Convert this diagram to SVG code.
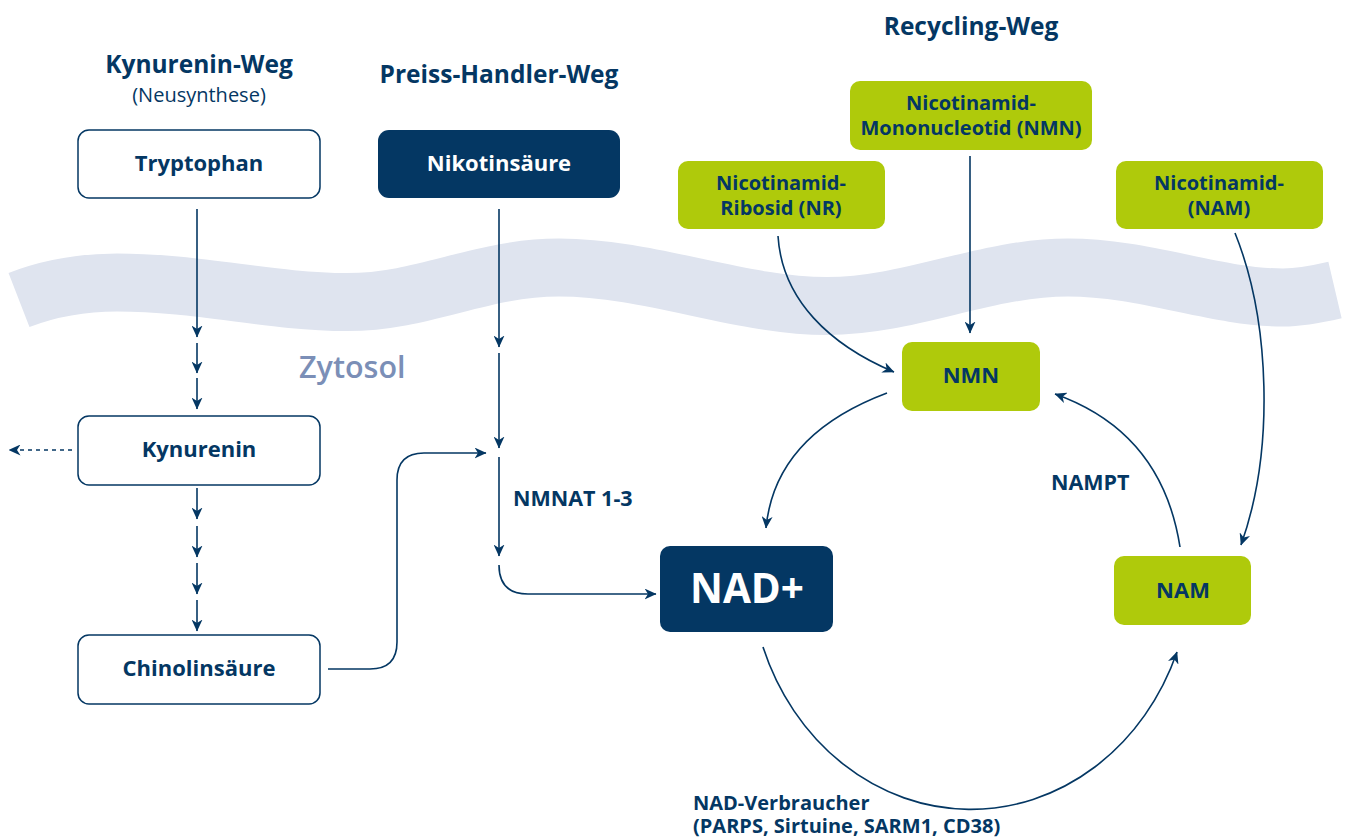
<svg xmlns="http://www.w3.org/2000/svg" width="1347" height="839" viewBox="0 0 1347 839">
  <defs>
    <marker id="arr" viewBox="0 0 12 11" refX="11.5" refY="5.5" markerWidth="12" markerHeight="11" markerUnits="userSpaceOnUse" orient="auto">
      <path d="M0,0 L12,5.5 L0,11 L3.5,5.5 Z" fill="#043763"/>
    </marker>
    <style>
      text { font-family: "Open Sans", "Noto Sans", "Liberation Sans", sans-serif; font-weight: 700; fill: #043763; }
      .hdr { font-size: 24.5px; text-anchor: middle; }
      .sub { font-size: 20px; font-weight: 400; text-anchor: middle; }
      .lbl { font-size: 20px; text-anchor: middle; }
      .lbl1 { font-size: 22px; text-anchor: middle; }
      .lblw { font-size: 22px; text-anchor: middle; fill: #ffffff; }
      .big { font-size: 40.5px; text-anchor: middle; fill: #ffffff; }
      .note { font-size: 21.5px; }
      .note2 { font-size: 20px; }
      .zyt { font-size: 30.5px; font-weight: 600; fill: #7B8FB7; }
      .wbox { fill: #ffffff; stroke: #043763; stroke-width: 1.5; }
      .nbox { fill: #043763; }
      .gbox { fill: #AFCA0B; }
      .con { fill: none; stroke: #043763; stroke-width: 1.6; marker-end: url(#arr); }
      .dash { fill: none; stroke: #043763; stroke-width: 1.6; stroke-dasharray: 4 4; marker-end: url(#arr); }
    </style>
  </defs>

  <rect width="1347" height="839" fill="#ffffff"/>

  <!-- membrane band -->
  <path id="membrane" d="M19,300 C 50,288 80,282.5 117,282.5 C 200,282.5 270,302 347,302 C 425,302 480,267.5 559,267.5 C 650,267.5 740,306 827,306 C 910,306 985,267.5 1068,267.5 C 1145,267.5 1215,297.5 1283,297.5 C 1302,297.5 1318,294 1335,290" fill="none" stroke="#DFE4EF" stroke-width="58"/>

  <text class="zyt" x="299" y="378">Zytosol</text>

  <!-- headers -->
  <text class="hdr" x="199" y="73">Kynurenin-Weg</text>
  <text class="sub" x="199" y="102">(Neusynthese)</text>
  <text class="hdr" x="499" y="83">Preiss-Handler-Weg</text>
  <text class="hdr" x="971" y="35">Recycling-Weg</text>

  <!-- connectors -->
  <g id="connectors">
    <path class="con" d="M197,209 L197,337"/>
    <path class="con" d="M197,343 L197,373"/>
    <path class="con" d="M197,378 L197,409"/>
    <path class="dash" d="M72,450 L9,450"/>
    <path class="con" d="M197,488 L197,519"/>
    <path class="con" d="M197,526 L197,557"/>
    <path class="con" d="M197,563 L197,594"/>
    <path class="con" d="M197,600 L197,631"/>
    <path class="con" d="M328,669 L370,669 Q397,669 397,642 L397,480 Q397,453 424,453 L486,453"/>
    <path class="con" d="M499,209 L499,347"/>
    <path class="con" d="M499,353 L499,448"/>
    <path class="con" d="M499,457 L499,556"/>
    <path class="con" d="M499,565 Q499,594 528,594 L656,594"/>
    <path class="con" d="M778,236 C 782,300 830,345 894,372"/>
    <path class="con" d="M970,156 L970,333"/>
    <path class="con" d="M1235,233 C 1270,320 1275,450 1241,545"/>
    <path class="con" d="M887,393 Q 775,435 766,528"/>
    <path class="con" d="M1180,547 Q 1162,432 1055,394"/>
    <path class="con" d="M763,647 A221,246 0 0 0 1177,652"/>
  </g>

  <!-- nodes -->
  <g id="tryptophan">
    <rect class="wbox" x="78" y="130" width="242" height="68" rx="11"/>
    <text class="lbl1" x="199" y="171">Tryptophan</text>
  </g>
  <g id="nikotinsaeure">
    <rect class="nbox" x="378" y="130" width="242" height="68" rx="11"/>
    <text class="lblw" x="499" y="171">Nikotinsäure</text>
  </g>
  <g id="kynurenin">
    <rect class="wbox" x="78" y="416" width="242" height="69" rx="11"/>
    <text class="lbl1" x="199" y="457">Kynurenin</text>
  </g>
  <g id="chinolinsaeure">
    <rect class="wbox" x="78" y="635" width="242" height="69" rx="11"/>
    <text class="lbl1" x="199" y="676">Chinolinsäure</text>
  </g>
  <g id="nr">
    <rect class="gbox" x="678" y="161" width="207" height="68" rx="10"/>
    <text class="lbl" x="781" y="190">Nicotinamid-</text>
    <text class="lbl" x="781" y="215">Ribosid (NR)</text>
  </g>
  <g id="nmn-top">
    <rect class="gbox" x="850" y="81" width="242" height="69" rx="10"/>
    <text class="lbl" x="971" y="110">Nicotinamid-</text>
    <text class="lbl" x="971" y="135">Mononucleotid (NMN)</text>
  </g>
  <g id="nam-top">
    <rect class="gbox" x="1116" y="161" width="207" height="68" rx="10"/>
    <text class="lbl" x="1219" y="190">Nicotinamid-</text>
    <text class="lbl" x="1219" y="215">(NAM)</text>
  </g>
  <g id="nmn">
    <rect class="gbox" x="902" y="342" width="138" height="69" rx="10"/>
    <text class="lbl1" x="971" y="383">NMN</text>
  </g>
  <g id="nam">
    <rect class="gbox" x="1114" y="556" width="137" height="69" rx="10"/>
    <text class="lbl1" x="1183" y="598">NAM</text>
  </g>
  <g id="nad">
    <rect class="nbox" x="660" y="546" width="173" height="86" rx="10"/>
    <text class="big" x="747" y="603">NAD+</text>
  </g>

  <!-- labels -->
  <text class="note" x="513" y="506">NMNAT 1-3</text>
  <text class="note" x="1051" y="490">NAMPT</text>
  <text class="note2" x="693" y="810">NAD-Verbraucher</text>
  <text class="note2" x="693" y="833">(PARPS, Sirtuine, SARM1, CD38)</text>
</svg>
